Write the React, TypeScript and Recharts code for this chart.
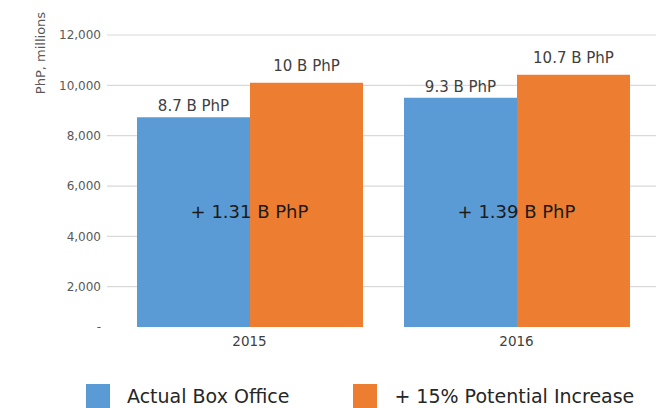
import React from 'react';
import {
  BarChart,
  Bar,
  XAxis,
  YAxis,
  CartesianGrid,
  LabelList,
  ReferenceDot,
} from 'recharts';

const years = ['2015', '2016'];
const actualValues = [8730, 9510];
const potentialValues = [10100, 10420];
const actualLabels = ['8.7 B PhP', '9.3 B PhP'];
const potentialLabels = ['10 B PhP', '10.7 B PhP'];
const increaseLabels = ['+ 1.31 B PhP', '+ 1.39 B PhP'];
const increaseLabelLevel = 4970;

const yTicks = [400, 2000, 4000, 6000, 8000, 10000, 12000];
const yTickLabels = ['-', '2,000', '4,000', '6,000', '8,000', '10,000', '12,000'];
const gridValues = [2000, 4000, 6000, 8000, 10000, 12000];

const seriesNames = ['Actual Box Office', '+ 15% Potential Increase'];
const seriesColors = ['#5B9BD5', '#ED7D31'];

const FONT = '"DejaVu Sans", sans-serif';

const chartData = years.map((year, i) => ({
  year,
  actual: actualValues[i],
  potential: potentialValues[i],
  actualLabel: actualLabels[i],
  potentialLabel: potentialLabels[i],
}));

const AxisTitle = (props: any) => {
  const { viewBox } = props;
  const x = viewBox.x + 40;
  const y = viewBox.y + 18;
  return (
    <text
      x={x}
      y={y}
      transform={`rotate(-90, ${x}, ${y})`}
      textAnchor="middle"
      dominantBaseline="central"
      fontSize={13}
      fill="#595959"
      fontFamily={FONT}
    >
      PhP, millions
    </text>
  );
};

const App: React.FC = () => {
  return (
    <div
      style={{
        position: 'absolute',
        left: 0,
        top: 0,
        width: 656,
        height: 408,
        fontFamily: FONT,
        background: '#fff',
      }}
    >
      <BarChart
        width={656}
        height={408}
        data={chartData}
        margin={{ top: 35, right: 0, bottom: 51, left: 0 }}
        barCategoryGap={21}
        barGap={0}
      >
        <CartesianGrid
          vertical={false}
          horizontalValues={gridValues}
          stroke="#d9d9d9"
          strokeWidth={1.2}
        />
        <XAxis
          dataKey="year"
          height={30}
          axisLine={false}
          tickLine={false}
          tickSize={0}
          tickMargin={9}
          padding={{ left: 9, right: 6 }}
          tick={{ fontSize: 13.5, fill: '#404040', fontFamily: FONT }}
        />
        <YAxis
          width={107}
          domain={[400, 12000]}
          ticks={yTicks}
          axisLine={false}
          tickLine={false}
          tickSize={0}
          tickMargin={6}
          tickFormatter={(v: number) => yTickLabels[yTicks.indexOf(v)]}
          tick={{ fontSize: 12, fill: '#595959', fontFamily: FONT }}
          label={<AxisTitle />}
        />
        <Bar
          dataKey="actual"
          name={seriesNames[0]}
          fill={seriesColors[0]}
          isAnimationActive={false}
        >
          <LabelList
            dataKey="actualLabel"
            position="top"
            offset={6}
            fontSize={15}
            fill="#404040"
            fontFamily={FONT}
          />
        </Bar>
        <Bar
          dataKey="potential"
          name={seriesNames[1]}
          fill={seriesColors[1]}
          isAnimationActive={false}
        >
          <LabelList
            dataKey="potentialLabel"
            position="top"
            offset={12}
            fontSize={15}
            fill="#404040"
            fontFamily={FONT}
          />
        </Bar>
        {years.map((year, i) => (
          <ReferenceDot
            key={year}
            x={year}
            y={increaseLabelLevel}
            r={0}
            stroke="none"
            label={{
              value: increaseLabels[i],
              position: 'center',
              fontSize: 18,
              fill: '#1a1a1a',
              fontFamily: FONT,
            }}
          />
        ))}
      </BarChart>
      <div
        style={{
          position: 'absolute',
          left: 86,
          top: 384,
          display: 'flex',
          alignItems: 'center',
          height: 24,
        }}
      >
        {seriesNames.map((name, i) => (
          <div
            key={name}
            style={{
              display: 'flex',
              alignItems: 'center',
              marginRight: i === 0 ? 64 : 0,
            }}
          >
            <div
              style={{ width: 24, height: 24, background: seriesColors[i], marginRight: 17 }}
            />
            <span style={{ fontSize: 19, color: '#262626', whiteSpace: 'nowrap' }}>{name}</span>
          </div>
        ))}
      </div>
    </div>
  );
};

export default App;
